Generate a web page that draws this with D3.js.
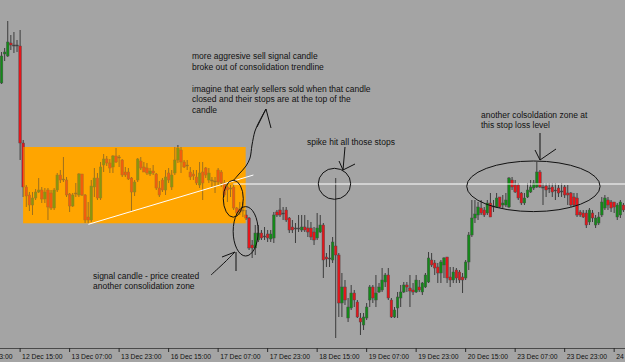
<!DOCTYPE html>
<html><head><meta charset="utf-8">
<script src="https://cdn.jsdelivr.net/npm/d3@7/dist/d3.min.js"></script>
<style>html,body{margin:0;padding:0;background:#a4a4a4;overflow:hidden}</style>
</head><body><svg id="c" width="625" height="362"></svg>
<script>
// Hourly candles, 12 Dec 09:00 .. 24 Dec ~17:00
const open = [1.3917,1.3946,1.3944,1.3957,1.3955,1.3955,1.3954,1.3857,1.3813,1.3805,
1.3795,1.3802,1.3808,1.3810,1.3801,1.3810,1.3807,1.3792,1.3810,1.3825,
1.3821,1.3820,1.3806,1.3794,1.3806,1.3805,1.3826,1.3805,1.3783,1.3780,
1.3813,1.3822,1.3802,1.3835,1.3841,1.3837,1.3833,1.3844,1.3843,1.3840,
1.3828,1.3828,1.3822,1.3808,1.3820,1.3839,1.3833,1.3832,1.3826,1.3829,
1.3826,1.3812,1.3820,1.3810,1.3827,1.3813,1.3827,1.3840,1.3850,1.3838,
1.3835,1.3828,1.3826,1.3823,1.3815,1.3828,1.3832,1.3820,1.3820,1.3819,
1.3830,1.3828,1.3817,1.3813,1.3812,1.3813,1.3792,1.3791,1.3790,1.3785,
1.3782,1.3755,1.3752,1.3760,1.3767,1.3764,1.3766,1.3761,1.3762,1.3788,
1.3790,1.3787,1.3790,1.3782,1.3773,1.3772,1.3772,1.3770,1.3773,1.3772,
1.3772,1.3768,1.3762,1.3768,1.3775,1.3743,1.3742,1.3740,1.3754,1.3745,
1.3697,1.3713,1.3682,1.3692,1.3707,1.3698,1.3682,1.3675,1.3682,1.3700,
1.3713,1.3700,1.3708,1.3710,1.3718,1.3725,1.3700,1.3683,1.3692,1.3702,
1.3708,1.3715,1.3712,1.3710,1.3708,1.3713,1.3708,1.3713,1.3718,1.3740,
1.3737,1.3733,1.3727,1.3735,1.3743,1.3723,1.3720,1.3730,1.3728,1.3723,
1.3722,1.3738,1.3765,1.3782,1.3785,1.3792,1.3790,1.3787,1.3797,1.3793,
1.3793,1.3803,1.3795,1.3795,1.3793,1.3820,1.3815,1.3815,1.3807,1.3797,
1.3803,1.3808,1.3812,1.3813,1.3828,1.3812,1.3814,1.3812,1.3813,1.3810,
1.3812,1.3809,1.3813,1.3807,1.3807,1.3803,1.3802,1.3788,1.3787,1.3787,
1.3778,1.3787,1.3775,1.3777,1.3785,1.3792,1.3800,1.3798,1.3798,1.3783,
1.3785,1.3795];
const high = [1.3948,1.3952,1.3979,1.3965,1.3968,1.3960,1.3970,1.3860,1.3815,1.3808,
1.3808,1.3811,1.3822,1.3813,1.3812,1.3812,1.3810,1.3812,1.3827,1.3830,
1.3843,1.3823,1.3807,1.3807,1.3817,1.3827,1.3826,1.3806,1.3798,1.3820,
1.3832,1.3827,1.3838,1.3846,1.3844,1.3841,1.3845,1.3852,1.3845,1.3841,
1.3833,1.3832,1.3823,1.3820,1.3842,1.3843,1.3838,1.3837,1.3832,1.3835,
1.3827,1.3819,1.3822,1.3830,1.3832,1.3830,1.3853,1.3855,1.3853,1.3840,
1.3840,1.3833,1.3830,1.3830,1.3838,1.3838,1.3833,1.3832,1.3823,1.3823,
1.3832,1.3830,1.3820,1.3817,1.3815,1.3817,1.3793,1.3798,1.3798,1.3790,
1.3783,1.3760,1.3775,1.3775,1.3770,1.3773,1.3770,1.3770,1.3788,1.3790,
1.3802,1.3793,1.3793,1.3783,1.3780,1.3777,1.3785,1.3785,1.3785,1.3780,
1.3778,1.3773,1.3787,1.3785,1.3777,1.3747,1.3755,1.3763,1.3822,1.3747,
1.3727,1.3720,1.3702,1.3715,1.3710,1.3700,1.3687,1.3687,1.3697,1.3715,
1.3715,1.3725,1.3717,1.3732,1.3727,1.3732,1.3702,1.3693,1.3708,1.3715,
1.3718,1.3718,1.3725,1.3717,1.3725,1.3720,1.3718,1.3727,1.3748,1.3747,
1.3740,1.3737,1.3740,1.3743,1.3743,1.3733,1.3733,1.3732,1.3730,1.3727,
1.3740,1.3768,1.3800,1.3800,1.3798,1.3800,1.3793,1.3800,1.3807,1.3800,
1.3807,1.3803,1.3805,1.3807,1.3823,1.3823,1.3820,1.3817,1.3808,1.3807,
1.3817,1.3820,1.3820,1.3838,1.3830,1.3817,1.3817,1.3817,1.3817,1.3817,
1.3815,1.3817,1.3815,1.3815,1.3808,1.3807,1.3807,1.3790,1.3790,1.3790,
1.3792,1.3790,1.3785,1.3788,1.3803,1.3805,1.3803,1.3800,1.3798,1.3797,
1.3800,1.3797];
const low = [1.3916,1.3939,1.3943,1.3950,1.3947,1.3948,1.3840,1.3803,1.3793,1.3789,
1.3785,1.3800,1.3807,1.3797,1.3797,1.3780,1.3790,1.3790,1.3808,1.3817,
1.3818,1.3803,1.3788,1.3793,1.3803,1.3803,1.3804,1.3777,1.3777,1.3778,
1.3803,1.3800,1.3800,1.3828,1.3834,1.3827,1.3827,1.3837,1.3833,1.3823,
1.3823,1.3820,1.3789,1.3804,1.3818,1.3830,1.3828,1.3825,1.3824,1.3825,
1.3810,1.3803,1.3808,1.3805,1.3817,1.3810,1.3825,1.3837,1.3827,1.3832,
1.3830,1.3820,1.3820,1.3815,1.3812,1.3800,1.3822,1.3817,1.3813,1.3807,
1.3815,1.3813,1.3803,1.3798,1.3803,1.3790,1.3785,1.3785,1.3783,1.3780,
1.3750,1.3742,1.3745,1.3758,1.3760,1.3760,1.3758,1.3758,1.3757,1.3783,
1.3783,1.3780,1.3778,1.3767,1.3767,1.3757,1.3768,1.3768,1.3768,1.3763,
1.3760,1.3755,1.3760,1.3767,1.3722,1.3733,1.3733,1.3737,1.3662,1.3683,
1.3683,1.3695,1.3678,1.3690,1.3693,1.3682,1.3665,1.3670,1.3680,1.3693,
1.3697,1.3693,1.3707,1.3708,1.3713,1.3700,1.3682,1.3682,1.3682,1.3693,
1.3707,1.3708,1.3693,1.3705,1.3707,1.3708,1.3705,1.3712,1.3717,1.3733,
1.3725,1.3717,1.3717,1.3722,1.3717,1.3713,1.3717,1.3717,1.3717,1.3707,
1.3720,1.3730,1.3763,1.3777,1.3780,1.3785,1.3783,1.3785,1.3783,1.3788,
1.3792,1.3792,1.3792,1.3793,1.3792,1.3810,1.3807,1.3800,1.3795,1.3795,
1.3802,1.3807,1.3810,1.3812,1.3812,1.3795,1.3803,1.3807,1.3803,1.3800,
1.3803,1.3803,1.3802,1.3795,1.3793,1.3793,1.3783,1.3783,1.3782,1.3772,
1.3775,1.3778,1.3772,1.3775,1.3783,1.3790,1.3790,1.3788,1.3787,1.3780,
1.3782,1.3788];
const close = [1.3944,1.3948,1.3958,1.3955,1.3955,1.3954,1.3857,1.3813,1.3804,1.3795,
1.3802,1.3808,1.3810,1.3801,1.3808,1.3793,1.3792,1.3810,1.3825,1.3820,
1.3820,1.3805,1.3794,1.3805,1.3807,1.3826,1.3805,1.3780,1.3780,1.3814,
1.3822,1.3802,1.3833,1.3841,1.3837,1.3832,1.3844,1.3838,1.3843,1.3825,
1.3825,1.3821,1.3808,1.3818,1.3841,1.3832,1.3828,1.3827,1.3829,1.3827,
1.3812,1.3805,1.3810,1.3823,1.3820,1.3825,1.3840,1.3852,1.3838,1.3833,
1.3835,1.3823,1.3824,1.3817,1.3827,1.3817,1.3825,1.3827,1.3820,1.3818,
1.3818,1.3817,1.3805,1.3810,1.3811,1.3792,1.3787,1.3788,1.3790,1.3782,
1.3752,1.3752,1.3767,1.3767,1.3762,1.3764,1.3762,1.3766,1.3785,1.3785,
1.3785,1.3786,1.3780,1.3770,1.3770,1.3771,1.3771,1.3773,1.3770,1.3768,
1.3763,1.3760,1.3772,1.3775,1.3740,1.3741,1.3741,1.3758,1.3745,1.3697,
1.3713,1.3700,1.3693,1.3707,1.3700,1.3683,1.3678,1.3683,1.3693,1.3713,
1.3702,1.3707,1.3713,1.3720,1.3725,1.3702,1.3683,1.3690,1.3703,1.3708,
1.3715,1.3713,1.3709,1.3708,1.3720,1.3710,1.3717,1.3725,1.3742,1.3735,
1.3732,1.3727,1.3738,1.3742,1.3722,1.3720,1.3728,1.3722,1.3720,1.3720,
1.3738,1.3765,1.3782,1.3786,1.3793,1.3787,1.3785,1.3797,1.3783,1.3794,
1.3802,1.3793,1.3797,1.3800,1.3822,1.3813,1.3808,1.3802,1.3797,1.3802,
1.3810,1.3813,1.3817,1.3828,1.3813,1.3813,1.3810,1.3811,1.3808,1.3809,
1.3807,1.3808,1.3805,1.3805,1.3795,1.3795,1.3785,1.3785,1.3783,1.3775,
1.3790,1.3782,1.3782,1.3783,1.3798,1.3802,1.3795,1.3792,1.3793,1.3795,
1.3798,1.3790];

// time axis: one label every 16 bars
const tickIndex = [-10,6,22,38,54,70,86,102,118,134,150,166,182,198];
const tickLabels = ["11 Dec 23:00","12 Dec 15:00","13 Dec 07:00","13 Dec 23:00","16 Dec 15:00","17 Dec 07:00","17 Dec 23:00","18 Dec 15:00","19 Dec 07:00","19 Dec 23:00","20 Dec 15:00","23 Dec 07:00","23 Dec 23:00","24 Dec 15:00"];

// drawn objects in chart coordinates (bar index, price)
const zone = {from: 6.97, to: 78.9, top: 1.3853, bottom: 1.37767};
const trendline = [[28.07, 1.37757], [81.4, 1.3825]];
const stopLevel = {from: 74.8, price: 1.3816};
const ellipses = [[74.9, 1.38013, 10, 18.5], [78.9, 1.37687, 12.5, 24.7], [107.6, 1.38162, 16.2, 15.5], [171.9, 1.38137, 66.7, 25.3]];
const curves = [
  [[85.47,1.3891],[83.21,1.3878],[81.92,1.3869],[80.95,1.3855],[80.30,1.3842],[79.01,1.3834],[76.75,1.3826],[74.81,1.3819]],
  [[67.70,1.3725],[72.22,1.3738],[75.45,1.3748]]
];
const segments = [
  [[82.56,1.3873],[85.47,1.3891],[87.09,1.3872]],
  [[71.25,1.3743],[75.45,1.3748]],
  [[75.78,1.3748],[75.78,1.3729]],
  [[111.0,1.3853],[110.36,1.3830]],
  [[109.07,1.3839],[110.36,1.3830],[114.24,1.3836]],
  [[174.03,1.3867],[174.03,1.3840]],
  [[172.42,1.3850],[174.03,1.3840],[179.20,1.3851]]
];
const notes = [
  {x:192, y:59, lines:["more aggresive sell signal candle","broke out of consolidation trendline"]},
  {x:192, y:91.5, lines:["imagine that early sellers sold when that candle","closed and their stops are at the top of the","candle"]},
  {x:307, y:145, lines:["spike hit all those stops"]},
  {x:481, y:117.5, lines:["another colsoldation zone at","this stop loss level"]},
  {x:93, y:278.5, lines:["signal candle - price created","another consolidation zone"]}
];

const W = 625, H = 362, N = open.length;
const svg = d3.select('#c');
const x = d3.scaleLinear().domain([-0.5, N - 0.5]).range([0, W]);
const y = d3.scaleLinear().domain([1.3638, 1.4000]).range([H, 0]);

svg.append('rect').attr('width', W).attr('height', H).attr('fill', '#a4a4a4');

const defs = svg.append('defs');
defs.append('clipPath').attr('id', 'zoneclip').append('rect')
  .attr('x', x(zone.from)).attr('y', y(zone.top))
  .attr('width', x(zone.to) - x(zone.from)).attr('height', y(zone.bottom) - y(zone.top));

const bw = 2.6;
function drawCandles(g) {
  const idx = d3.range(N);
  g.selectAll('line').data(idx).join('line')
    .attr('x1', i => x(i)).attr('x2', i => x(i))
    .attr('y1', i => y(high[i])).attr('y2', i => y(low[i]))
    .attr('stroke', '#3c3c3c').attr('stroke-width', 1);
  g.selectAll('rect').data(idx).join('rect')
    .attr('x', i => x(i) - bw / 2).attr('width', bw)
    .attr('y', i => y(Math.max(open[i], close[i])))
    .attr('height', i => Math.max(1, Math.abs(y(open[i]) - y(close[i]))))
    .attr('fill', i => Math.abs(close[i] - open[i]) < 0.00012 ? '#3c3c3c' : (close[i] > open[i] ? '#138a18' : '#e3161b'))
    .attr('stroke', '#4a4a4a').attr('stroke-width', 0.45);
}
drawCandles(svg.append('g'));

svg.append('rect')
  .attr('x', x(zone.from)).attr('y', y(zone.top))
  .attr('width', x(zone.to) - x(zone.from)).attr('height', y(zone.bottom) - y(zone.top))
  .attr('fill', '#ffa500');
drawCandles(svg.append('g').attr('clip-path', 'url(#zoneclip)').attr('opacity', 0.5));

svg.append('line')
  .attr('x1', x(trendline[0][0])).attr('y1', y(trendline[0][1]))
  .attr('x2', x(trendline[1][0])).attr('y2', y(trendline[1][1]))
  .attr('stroke', '#ffffff').attr('stroke-width', 1);
svg.append('line')
  .attr('x1', x(stopLevel.from)).attr('x2', W)
  .attr('y1', y(stopLevel.price)).attr('y2', y(stopLevel.price))
  .attr('stroke', '#ffffff').attr('stroke-width', 1);

// axis
const axisY = 348;
svg.append('line').attr('x1', 0).attr('x2', W).attr('y1', axisY + 0.5).attr('y2', axisY + 0.5)
  .attr('stroke', '#4a4a4a').attr('stroke-width', 1);
const tk = svg.append('g');
tk.selectAll('line').data(tickIndex).join('line')
  .attr('x1', i => x(i)).attr('x2', i => x(i)).attr('y1', axisY).attr('y2', axisY + 4)
  .attr('stroke', '#2a2a2a').attr('stroke-width', 1);
tk.selectAll('text').data(tickIndex).join('text')
  .attr('x', i => x(i) + 2).attr('y', 359)
  .attr('font-family', 'Liberation Sans, Arial, sans-serif').attr('font-size', 6.8)
  .attr('fill', '#111').text((d, k) => tickLabels[k]);

// hand drawn marks
svg.append('g').selectAll('ellipse').data(ellipses).join('ellipse')
  .attr('cx', d => x(d[0])).attr('cy', d => y(d[1])).attr('rx', d => d[2]).attr('ry', d => d[3])
  .attr('fill', 'none').attr('stroke', '#111').attr('stroke-width', 1);
const curve = d3.line().x(d => x(d[0])).y(d => y(d[1])).curve(d3.curveCatmullRom);
const straight = d3.line().x(d => x(d[0])).y(d => y(d[1]));
svg.append('g').selectAll('path').data(curves).join('path')
  .attr('d', curve).attr('fill', 'none').attr('stroke', '#111').attr('stroke-width', 1);
svg.append('g').selectAll('path').data(segments).join('path')
  .attr('d', straight).attr('fill', 'none').attr('stroke', '#111').attr('stroke-width', 1);

const tg = svg.append('g').attr('font-family', 'Liberation Sans, Arial, sans-serif')
  .attr('font-size', 8.5).attr('fill', '#111');
notes.forEach(n => {
  n.lines.forEach((t, k) => {
    tg.append('text').attr('x', n.x).attr('y', n.y + k * 10.8).text(t);
  });
});
</script>
</body></html>
